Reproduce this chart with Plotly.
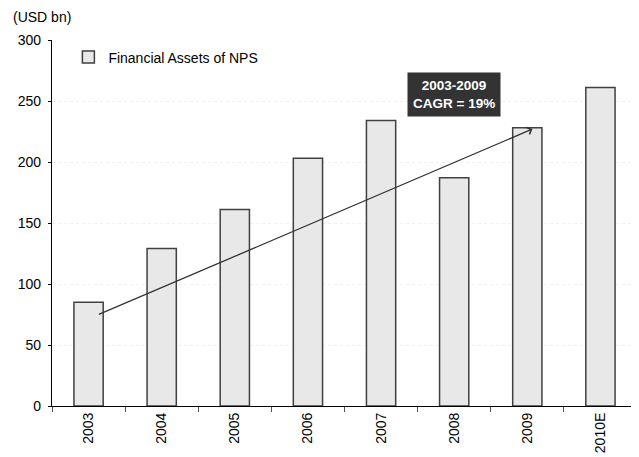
import plotly.graph_objects as go

years = ["2003", "2004", "2005", "2006", "2007", "2008", "2009", "2010E"]
assets = [85, 129, 161, 203, 234, 187, 228, 261]
series_name = "Financial Assets of NPS"
unit_label = "(USD bn)"
cagr_text = "<b>2003-2009<br>CAGR = 19%</b>"
y_ticks = [0, 50, 100, 150, 200, 250, 300]

FONT = "Arial, 'Liberation Sans', sans-serif"

# the page body has an 8px margin, so the figure is sized/offset to compensate
fig = go.Figure()
fig.add_trace(go.Bar(
    x=years, y=assets, name=series_name,
    marker=dict(color="#e8e8e8", line=dict(color="#404040", width=1.5)),
    width=0.4, showlegend=True,
))

# trend arrow 2003 -> 2009
fig.add_annotation(
    x=6.07, y=227, xref="x", yref="y",
    ax=0.12, ay=74.5, axref="x", ayref="y",
    showarrow=True, arrowhead=4, arrowsize=1.1, arrowwidth=1.3,
    arrowcolor="#333333", text="",
)
fig.add_annotation(
    x=5.0, y=255, xref="x", yref="y", text=cagr_text, showarrow=False,
    font=dict(family=FONT, size=13.5, color="white"),
    bgcolor="#333333", borderpad=5,
)
fig.add_annotation(
    x=0, y=1, xref="paper", yref="paper", text=unit_label, showarrow=False,
    xshift=-41, yshift=23, xanchor="left", yanchor="middle",
    font=dict(family=FONT, size=14, color="black"),
)

fig.update_layout(
    width=631, height=449,
    margin=dict(l=44, r=2, t=32, b=51),
    paper_bgcolor="white", plot_bgcolor="white",
    font=dict(family=FONT, size=14, color="black"),
    legend=dict(x=0.028, y=0.996, xanchor="left", yanchor="top",
                bgcolor="rgba(0,0,0,0)", font=dict(size=14), itemwidth=30),
    xaxis=dict(
        type="category", showline=True, linecolor="black", linewidth=1.2,
        ticks="outside", tickson="boundaries", ticklen=5, tickcolor="#555555",
        tickangle=-90, showgrid=False, range=[-0.5, 7.5], automargin=False,
    ),
    yaxis=dict(
        range=[0, 300], tickvals=y_ticks, showline=True, linecolor="black",
        linewidth=1.2, ticks="outside", ticklen=3, tickcolor="black",
        showgrid=True, gridcolor="#f0f0f0", griddash="dot", gridwidth=1,
        zeroline=False, ticklabelstandoff=4, automargin=False,
    ),
)

fig.write_html("out.html")
